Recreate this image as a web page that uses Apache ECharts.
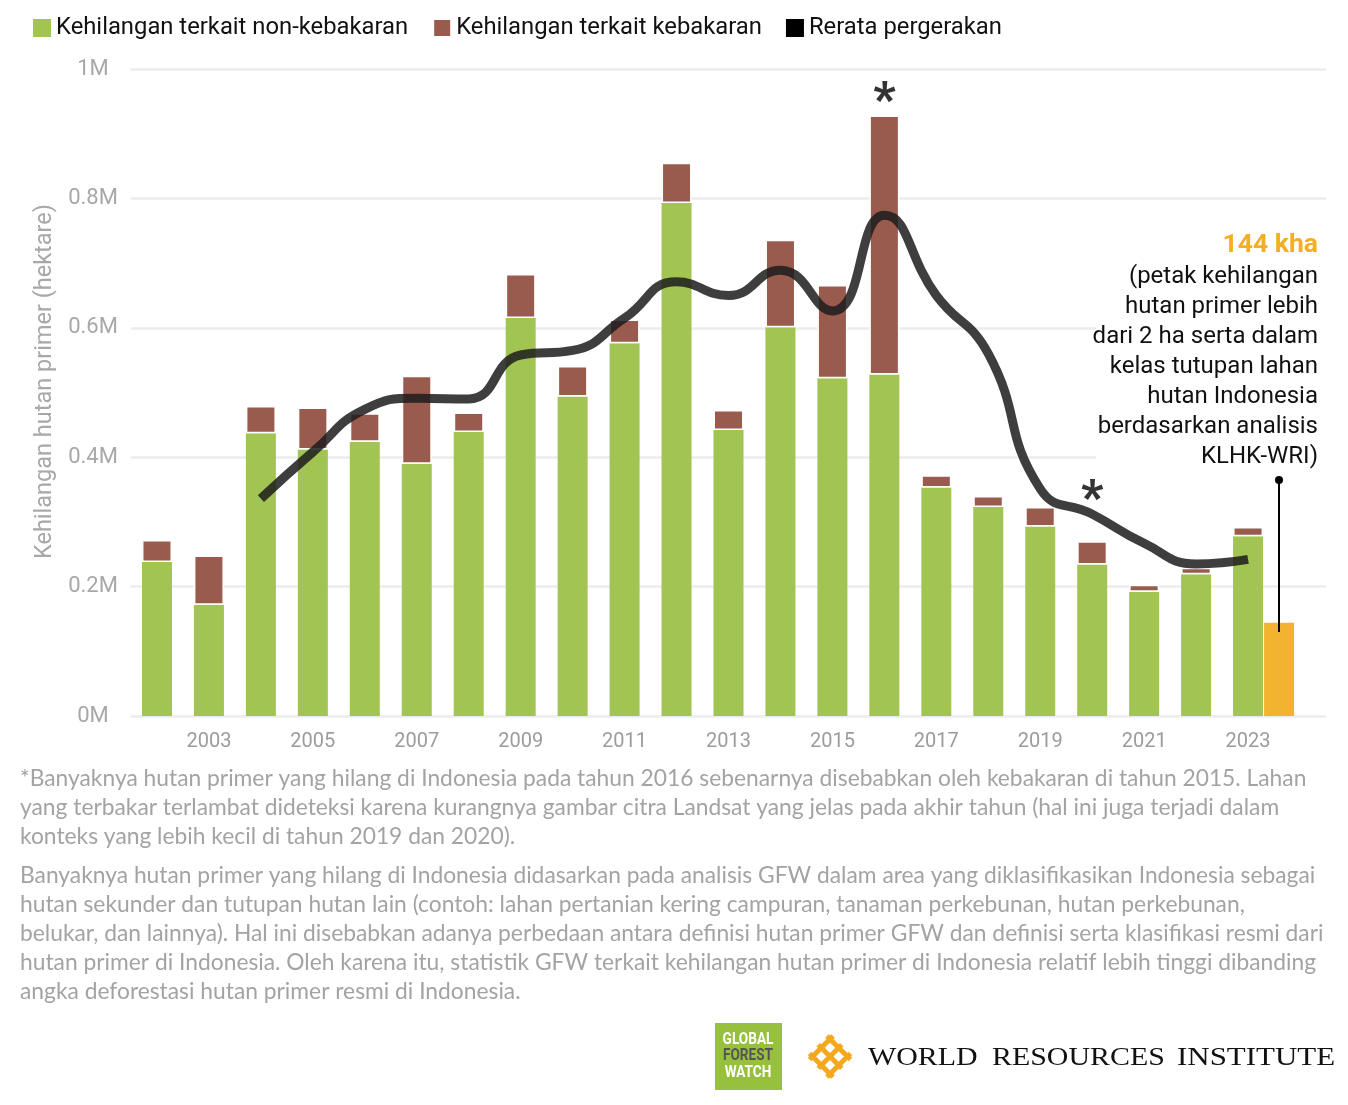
<!DOCTYPE html>
<html><head><meta charset="utf-8">
<script src="https://cdn.jsdelivr.net/npm/echarts@6/dist/echarts.min.js"></script>
<style>html,body{margin:0;padding:0;background:#fff}#chart{width:1348px;height:1105px}</style>
</head><body><div id="chart"></div>
<script>
const years = ['2002','2003','2004','2005','2006','2007','2008','2009','2010','2011','2012','2013','2014','2015','2016','2017','2018','2019','2020','2021','2022','2023'];
const nonFireLoss = [238000,172000,437000,412000,424000,390000,439000,615000,494000,576000,793000,442000,601000,522000,528000,353000,323000,293000,234000,192000,219000,278000];
const fireLoss = [34000,76000,42000,65000,44000,136000,30000,68000,47000,37000,62000,31000,135000,144000,400000,19000,17000,30000,36000,11000,10000,14000];
const movingAverage = [null,null,336000,408000,474000,491000,490000,558000,565000,615000,671000,650000,689000,626000,774000,650000,560000,351000,312000,267000,235000,242000];
const klhkYear = '2023';
const klhkLoss = 144000;
const starYears = ['2016','2020'];
const yTicks = [0,200000,400000,600000,800000,1000000];

const seriesNames = ['Kehilangan terkait non-kebakaran','Kehilangan terkait kebakaran','Rerata pergerakan'];
const annotationTitle = '144 kha';
const annotationLines = ['(petak kehilangan','hutan primer lebih','dari 2 ha serta dalam','kelas tutupan lahan','hutan Indonesia','berdasarkan analisis','KLHK-WRI)'];
const note1 = ['*Banyaknya hutan primer yang hilang di Indonesia pada tahun 2016 sebenarnya disebabkan oleh kebakaran di tahun 2015. Lahan',
 'yang terbakar terlambat dideteksi karena kurangnya gambar citra Landsat yang jelas pada akhir tahun (hal ini juga terjadi dalam',
 'konteks yang lebih kecil di tahun 2019 dan 2020).'];
const note2 = ['Banyaknya hutan primer yang hilang di Indonesia didasarkan pada analisis GFW dalam area yang diklasifikasikan Indonesia sebagai',
 'hutan sekunder dan tutupan hutan lain (contoh: lahan pertanian kering campuran, tanaman perkebunan, hutan perkebunan,',
 'belukar, dan lainnya). Hal ini disebabkan adanya perbedaan antara definisi hutan primer GFW dan definisi serta klasifikasi resmi dari',
 'hutan primer di Indonesia. Oleh karena itu, statistik GFW terkait kehilangan hutan primer di Indonesia relatif lebih tinggi dibanding',
 'angka deforestasi hutan primer resmi di Indonesia.'];

(function () {
const GREEN = '#a2c453', BROWN = '#9a5b4f', YELLOW = '#f2b32e';
const categories = years.concat(['']);
const emptySlot = years.map(() => null);
const starData = starYears.map(y => {
  const i = years.indexOf(y);
  return y === '2016' ? [y, nonFireLoss[i] + fireLoss[i]] : [y, movingAverage[i]];
});

const chart = echarts.init(document.getElementById('chart'), null, {renderer: 'canvas'});

function txt(text, x, y, font, fill, align, vAlign, extra, el) {
  return Object.assign({type: 'text', silent: true, z: 5, x: x, y: y, style: Object.assign({
    text: text, x: 0, y: 0, font: font, fill: fill, align: align, textAlign: align, verticalAlign: vAlign, textVerticalAlign: vAlign
  }, extra || {})}, el || {});
}

const wriLines = [];
const icx = 830, itop = 1033, ihalf = 23.5;
[0.13, 0.5, 0.87].forEach(s => {
  wriLines.push({type:'line', silent:true, shape:{x1: icx-ihalf + ihalf*s, y1: itop+ihalf - ihalf*s, x2: icx + ihalf*s, y2: itop+2*ihalf - ihalf*s}, style:{stroke:'#f3a81e', lineWidth:5}});
  wriLines.push({type:'line', silent:true, shape:{x1: icx-ihalf + ihalf*s, y1: itop+ihalf + ihalf*s, x2: icx + ihalf*s, y2: itop + ihalf*s}, style:{stroke:'#f3a81e', lineWidth:5}});
});

const gridBox = {left: 131, right: 22, top: 69, bottom: 389};
const option = {
  animation: false,
  backgroundColor: '#fff',
  textStyle: {fontFamily: 'Roboto'},
  legend: {
    left: 33, top: 16, padding: 0, icon: 'rect', itemWidth: 18, itemHeight: 18, itemGap: 24,
    textStyle: {fontSize: 23.8, color: '#111', fontFamily: 'Roboto'},
    data: [{name: seriesNames[0]}, {name: seriesNames[1]}, {name: seriesNames[2], itemStyle: {color: '#000'}}]
  },
  grid: [Object.assign({}, gridBox), Object.assign({}, gridBox)],
  xAxis: [
    {type: 'category', data: categories, gridIndex: 0,
     axisLine: {show: false}, axisTick: {show: false},
     axisLabel: {interval: (i) => i % 2 === 1, color: '#9c9c9c', fontSize: 20, margin: 16, fontFamily: 'Roboto'}},
    {type: 'category', data: categories, gridIndex: 1, show: false}
  ],
  yAxis: [
    {type: 'value', min: yTicks[0], max: yTicks[yTicks.length-1], interval: yTicks[1]-yTicks[0], gridIndex: 0,
     name: 'Kehilangan hutan primer (hektare)', nameLocation: 'middle', nameGap: 74, nameRotate: 90,
     nameTextStyle: {color: '#a8a8a8', fontSize: 23.5, fontFamily: 'Roboto', padding: [0, 0, 0, 22]},
     axisLine: {show: false}, axisTick: {show: false},
     axisLabel: {color: '#a8a8a8', fontSize: 22, margin: 38, align: 'center', fontFamily: 'Roboto',
       formatter: v => v === 0 ? '0M' : (v / 1e6) + 'M'},
     splitLine: {lineStyle: {color: '#ececec', width: 2.5}}},
    {type: 'value', min: yTicks[0], max: yTicks[yTicks.length-1], gridIndex: 1, show: false, splitLine: {show: false}}
  ],
  series: [
    {name: seriesNames[0], type: 'bar', stack: 'loss', barWidth: 30, data: nonFireLoss,
     itemStyle: {color: GREEN}},
    {name: seriesNames[1], type: 'bar', stack: 'loss', barWidth: 30, data: fireLoss,
     itemStyle: {color: BROWN, borderColor: '#fff', borderWidth: 1.5}},
    {name: seriesNames[2], type: 'line', data: movingAverage, smooth: 0.5, symbol: 'none', z: 5,
     lineStyle: {color: 'rgba(28,28,28,0.85)', width: 9}, itemStyle: {color: 'rgba(28,28,28,0.85)'}},
    {name: 'slotA', type: 'bar', xAxisIndex: 1, yAxisIndex: 1, barWidth: 30, barGap: '3.4%', data: emptySlot, silent: true},
    {name: 'slotB', type: 'bar', xAxisIndex: 1, yAxisIndex: 1, barWidth: 30, barGap: '3.4%', data: emptySlot, silent: true},
    {name: 'KLHK', type: 'bar', xAxisIndex: 1, yAxisIndex: 1, barWidth: 30, barGap: '3.4%',
     data: years.map(y => y === klhkYear ? klhkLoss : null), itemStyle: {color: YELLOW}},
    {name: 'stars', type: 'scatter', symbolSize: 1, itemStyle: {color: 'rgba(0,0,0,0)'}, z: 6,
     data: starData.map((d, k) => ({value: d, label: {show: true, formatter: '*', position: 'top',
       distance: k === 0 ? -12 : -11, fontSize: 48, fontWeight: 900, color: '#000', fontFamily: 'Roboto'}}))}
  ],
  graphic: [
    {type: 'rect', silent: true, shape: {x: 1096, y: 228, width: 230, height: 243}, style: {fill: '#fff'}, z: 1},
    txt(annotationTitle, 1318, 245, 'bold 26.5px Roboto', '#f4ae22', 'right', 'middle'),
    txt(annotationLines.join('\n'), 1318, 262, '24px Roboto', '#111', 'right', 'top', {lineHeight: 30}),
    {type: 'circle', silent: true, z: 10, shape: {cx: 1279, cy: 480, r: 4}, style: {fill: '#000'}},
    {type: 'line', silent: true, shape: {x1: 1279, y1: 480, x2: 1279, y2: 632}, style: {stroke: '#000', lineWidth: 2}, z: 10},
    txt(note1.join('\n'), 20, 764, '22.8px Lato', '#a3a3a3', 'left', 'top', {lineHeight: 29}),
    txt(note2.join('\n'), 20, 861, '22.8px Lato', '#a3a3a3', 'left', 'top', {lineHeight: 29}),
    {type: 'rect', silent: true, shape: {x: 715, y: 1023, width: 67, height: 67}, style: {fill: '#97c03d'}},
    txt('GLOBAL', 748, 1040, 'bold 16px Roboto', '#fff', 'center', 'middle', null, {scaleX: 0.85}),
    txt('FOREST', 748, 1056, 'bold 16px Roboto', '#555', 'center', 'middle', null, {scaleX: 0.85}),
    txt('WATCH', 748, 1073, 'bold 16px Roboto', '#fff', 'center', 'middle', null, {scaleX: 0.85}),
    ...wriLines,
    txt('WORLD', 868, 1058, '26px "Liberation Serif"', '#111', 'left', 'middle', null, {scaleX: 1.15}),
    txt('RESOURCES', 992, 1058, '26px "Liberation Serif"', '#111', 'left', 'middle', null, {scaleX: 1.15}),
    txt('INSTITUTE', 1177, 1058, '26px "Liberation Serif"', '#111', 'left', 'middle', null, {scaleX: 1.19})
  ]
};
chart.setOption(option);
})();
</script></body></html>
